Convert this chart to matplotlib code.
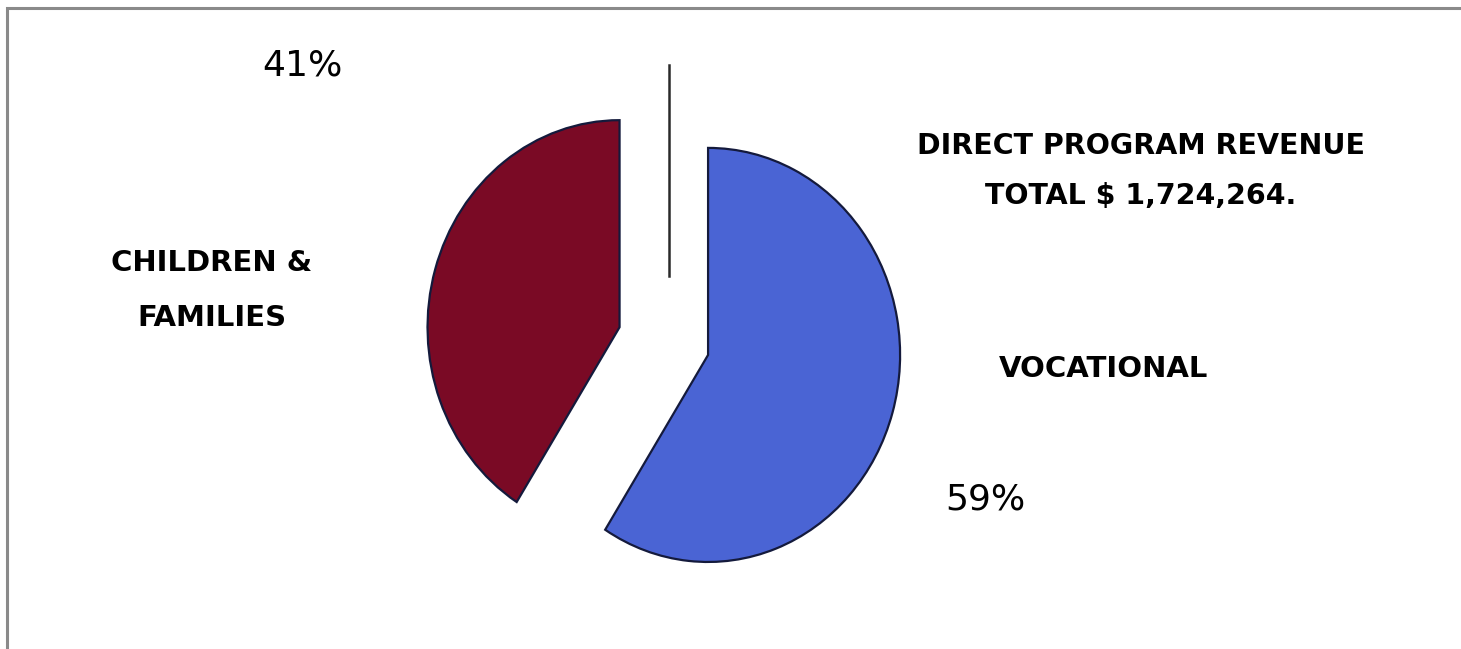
import matplotlib.pyplot as plt
from matplotlib.patches import Rectangle
from matplotlib.lines import Line2D

# program shares (percent)
programs = ['CHILDREN &', 'FAMILIES', 'VOCATIONAL']
shares = [41, 59]
colors = ['#7a0a25', '#4a64d4']
explode = [0.48, 0]
title_lines = ['DIRECT PROGRAM REVENUE', 'TOTAL $ 1,724,264.']

W, H = 1461, 649
fig = plt.figure(figsize=(W / 100, H / 100), dpi=100)
fig.patch.set_facecolor('white')

# pie axes, slightly squashed horizontally like the printed page
ax = fig.add_axes([0.2875, -0.0254, 0.3943, 0.957])
wedges, _ = ax.pie(shares, colors=colors, explode=explode, startangle=90,
                   counterclock=True,
                   wedgeprops=dict(edgecolor='#141a3c', linewidth=1.6))
ax.set_aspect('auto')
ax.set_xlim(-1.5, 1.5)
ax.set_ylim(-1.5, 1.5)
ax.axis('off')

# stray divider line above the pie
fig.add_artist(Line2D([669 / W, 669 / W], [1 - 65 / H, 1 - 276 / H],
                      color='#2a2a2a', lw=1.8))

# frame (only top and left edges fall inside the page)
fig.add_artist(Rectangle((7 / W, -0.2), 1.2, 1.2 - 8 / H,
                         transform=fig.transFigure, fill=False,
                         edgecolor='#8a8a8a', lw=2.2))

fnt = 'DejaVu Sans'
fig.text(302 / W, 1 - 66 / H, f'{shares[0]}%', ha='center', va='center',
         fontsize=26, family=fnt)
fig.text(985 / W, 1 - 499 / H, f'{shares[1]}%', ha='center', va='center',
         fontsize=26, family=fnt)

fig.text(212 / W, 1 - 263 / H, programs[0], ha='center', va='center',
         fontsize=21, family=fnt, weight='bold')
fig.text(212 / W, 1 - 318 / H, programs[1], ha='center', va='center',
         fontsize=21, family=fnt, weight='bold')
fig.text(1104 / W, 1 - 369 / H, programs[2], ha='center', va='center',
         fontsize=21, family=fnt, weight='bold')

fig.text(1141 / W, 1 - 146 / H, title_lines[0], ha='center', va='center',
         fontsize=20.5, family=fnt, weight='bold')
fig.text(1141 / W, 1 - 196 / H, title_lines[1], ha='center', va='center',
         fontsize=20.5, family=fnt, weight='bold')

fig.savefig('out.png', dpi=100)
